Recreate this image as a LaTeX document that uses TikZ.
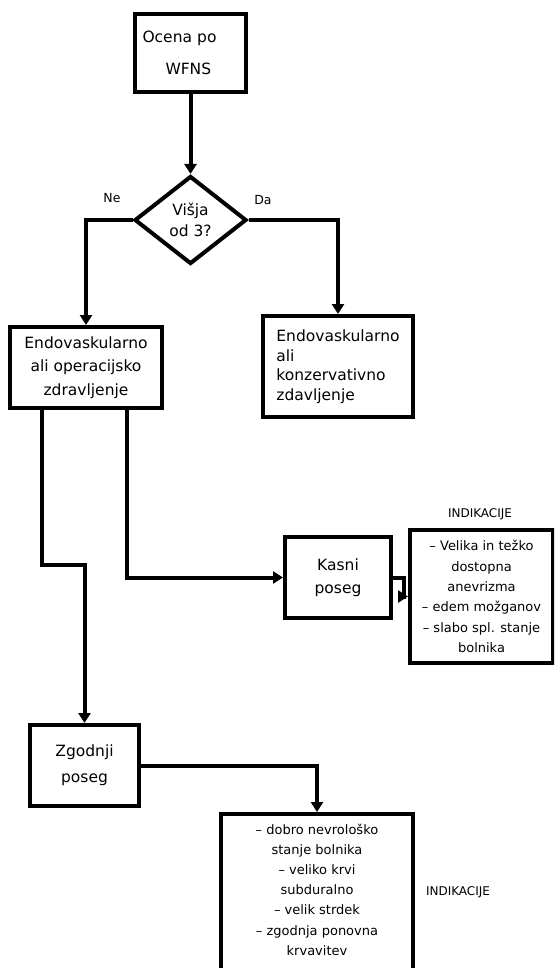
\documentclass[tikz,border=0pt]{standalone}
\usepackage{fontspec}
\setmainfont{DejaVu Sans}
\usetikzlibrary{arrows.meta,positioning,shapes.geometric}
\tikzset{
    flowbox/.style={
        rectangle,
        draw=black,
        line width=4pt,
        inner sep=2pt,
        align=center,
        font=\fontsize{15.5}{23.5}\selectfont
    },
    decision/.style={diamond, draw=black, line width=4pt, inner sep=0pt, aspect=1.27,
        minimum width=112pt, minimum height=88pt, align=center, font=\fontsize{15.5}{21}\selectfont},
    listbox/.style={flowbox, font=\fontsize{13}{20.3}\selectfont},
    tag/.style={inner sep=0pt, font=\fontsize{12}{14}\selectfont},
    answer/.style={inner sep=0pt, font=\fontsize{12.5}{14}\selectfont},
    line/.style={-{Triangle[length=10pt,width=12pt]}, line width=4pt},
}
\begin{document}
\begin{tikzpicture}[x=1pt, y=-1pt]
    \useasboundingbox (0,0) rectangle (554,968);
    \clip (0,0) rectangle (554,968);

    % Top of the chart
    \node[flowbox, minimum width=111pt, minimum height=78pt, text width=96pt, align=left, font=\fontsize{15.5}{32}\selectfont] (ocena) at (190.5,53) {Ocena po\\\hspace*{23pt}WFNS};
    \node[decision] (visja) at (190.5,220) {Višja\\od 3?};
    \node[answer] (ne) at (112,198) {Ne};
    \node[answer] (da) at (263,200) {Da};

    % Treatment choices
    \node[flowbox, minimum width=152pt, minimum height=81pt] (operacija) at (86,367.5) {Endovaskularno\\ali operacijsko\\zdravljenje};
    \node[flowbox, minimum width=150pt, minimum height=101pt, align=left, font=\fontsize{15.5}{19.5}\selectfont] (konzerva) at (338,366.5) {Endovaskularno\\ali\\konzervativno\\zdavljenje};

    % Timing of the procedure
    \node[flowbox, minimum width=106pt, minimum height=81pt, font=\fontsize{15.5}{23}\selectfont] (kasni) at (338,577.5) {Kasni\\poseg};
    \node[flowbox, minimum width=109pt, minimum height=81pt, font=\fontsize{15.5}{26}\selectfont] (zgodnji) at (84.5,765.5) {Zgodnji\\poseg};
    \coordinate (zgodnjibend) at (84.5,565);

    % Indications
    \node[tag] (indiklate) at (480,514) {INDIKACIJE};
    \node[listbox, minimum width=143pt, minimum height=133pt] (kasniind) at (481.5,596.5) {– Velika in težko\\dostopna\\anevrizma\\– edem možganov\\– slabo spl. stanje\\bolnika};
    \node[flowbox, anchor=north, minimum width=192pt, minimum height=180pt] (zgodnjiind) at (317,812) {};
    \node[inner sep=0pt, align=center, font=\fontsize{13}{20.2}\selectfont] (zgodnjitext) at (317,889.5) {– dobro nevrološko\\stanje bolnika\\– veliko krvi\\subduralno\\– velik strdek\\– zgodnja ponovna\\krvavitev};
    \node[tag] (indikearly) at (458,892) {INDIKACIJE};

    % Connectors
    \draw[line] (ocena.south) -- (visja.north);
    \draw[line] (visja.west) -| (operacija.north);
    \draw[line] (visja.east) -| (konzerva.north);
    \draw[line] ([xshift=-44pt]operacija.south) |- (zgodnjibend) -- (zgodnji.north);
    \draw[line] ([xshift=41pt]operacija.south) |- (kasni.west);
    \draw[line] (kasni.east) -- ++(11pt,0) |- (kasniind.west);
    \draw[line] (zgodnji.east) -| (zgodnjiind.north);
\end{tikzpicture}
\end{document}
